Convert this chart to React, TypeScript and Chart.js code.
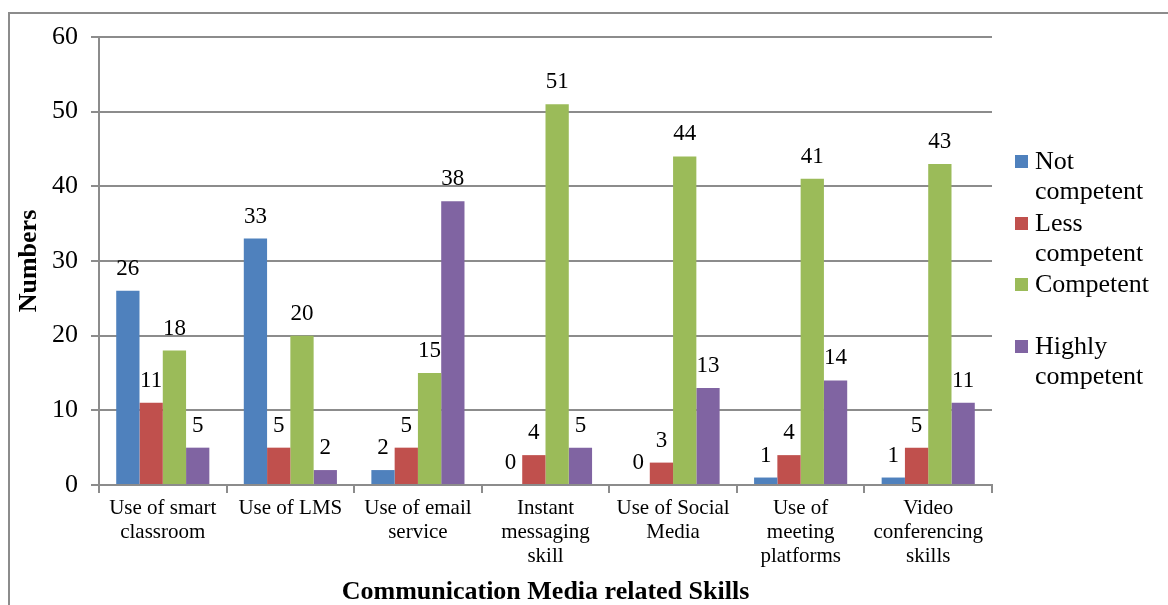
import React, { useEffect, useRef } from "react";
import { Chart, registerables } from "chart.js";

Chart.register(...registerables);

const categories: string[][] = [
  ["Use of smart", "classroom"],
  ["Use of LMS"],
  ["Use of email", "service"],
  ["Instant", "messaging", "skill"],
  ["Use of Social", "Media"],
  ["Use of", "meeting", "platforms"],
  ["Video", "conferencing", "skills"],
];

const notCompetent = [26, 33, 2, 0, 0, 1, 1];
const lessCompetent = [11, 5, 5, 4, 3, 4, 5];
const competent = [18, 20, 15, 51, 44, 41, 43];
const highlyCompetent = [5, 2, 38, 5, 13, 14, 11];

const seriesNames = ["Not competent", "Less competent", "Competent", "Highly competent"];
const legendLines: string[][] = [
  ["Not", "competent"],
  ["Less", "competent"],
  ["Competent"],
  ["Highly", "competent"],
];
const colors = ["#4F81BD", "#C0504D", "#9BBB59", "#8064A2"];
const yTicks = [0, 10, 20, 30, 40, 50, 60];

const FONT = "'Liberation Serif', 'Times New Roman', serif";
const GRID = "#8c8c8c";

const borderPlugin = {
  id: "outerBorder",
  beforeDraw(chart: any) {
    const ctx = chart.ctx;
    ctx.save();
    ctx.strokeStyle = "#8c8c8c";
    ctx.lineWidth = 2;
    ctx.strokeRect(9, 13, 3000, 3000);
    ctx.restore();
  },
};

const valueLabelPlugin = {
  id: "valueLabels",
  afterDatasetsDraw(chart: any) {
    const ctx = chart.ctx;
    ctx.save();
    ctx.font = `23px ${FONT}`;
    ctx.fillStyle = "#000";
    ctx.textAlign = "center";
    ctx.textBaseline = "alphabetic";
    chart.data.datasets.forEach((ds: any, i: number) => {
      const meta = chart.getDatasetMeta(i);
      meta.data.forEach((bar: any, j: number) => {
        ctx.fillText(String(ds.data[j]), bar.x, bar.y - 16);
      });
    });
    ctx.restore();
  },
};

const legendPlugin = {
  id: "customLegend",
  afterDraw(chart: any) {
    const ctx = chart.ctx;
    ctx.save();
    ctx.font = `26px ${FONT}`;
    ctx.textBaseline = "middle";
    ctx.textAlign = "left";
    const starts = [162, 224, 285, 347];
    legendLines.forEach((lines, i) => {
      const y0 = starts[i];
      ctx.fillStyle = colors[i];
      ctx.fillRect(1015, y0 - 7, 13, 13);
      ctx.fillStyle = "#000";
      lines.forEach((ln, k) => {
        ctx.fillText(ln, 1035, y0 + k * 30);
      });
    });
    ctx.restore();
  },
};

export default function App() {
  const ref = useRef<HTMLCanvasElement | null>(null);

  useEffect(() => {
    if (!ref.current) return;
    const datasetsValues = [notCompetent, lessCompetent, competent, highlyCompetent];
    const chart = new Chart(ref.current, {
      type: "bar",
      data: {
        labels: categories as any,
        datasets: datasetsValues.map((d, i) => ({
          label: seriesNames[i],
          data: d,
          backgroundColor: colors[i],
          borderWidth: 0,
          categoryPercentage: 0.73,
          barPercentage: 1.0,
        })),
      },
      options: {
        animation: false,
        responsive: false,
        maintainAspectRatio: false,
        layout: { padding: { left: 10, top: 37, right: 176, bottom: 0 } },
        plugins: {
          legend: { display: false },
          tooltip: { enabled: false },
        },
        scales: {
          x: {
            grid: {
              drawOnChartArea: false,
              drawTicks: true,
              tickLength: 8,
              color: GRID,
              lineWidth: 2,
            },
            border: { color: GRID, width: 2 },
            ticks: {
              color: "#000",
              font: { family: FONT, size: 21, lineHeight: 1.15 },
              padding: 3,
              maxRotation: 0,
              autoSkip: false,
            },
            title: {
              display: true,
              text: "Communication Media related Skills",
              color: "#000",
              font: { family: FONT, size: 26, weight: "bold" },
              padding: { top: 0, bottom: -3 },
            },
            afterFit(scale: any) {
              scale.height = 120;
            },
          },
          y: {
            min: 0,
            max: 60,
            afterBuildTicks(scale: any) {
              scale.ticks = yTicks.map((v) => ({ value: v }));
            },
            grid: {
              color: GRID,
              lineWidth: 2,
              tickLength: 8,
            },
            border: { color: GRID, width: 2 },
            ticks: {
              color: "#000",
              font: { family: FONT, size: 26 },
              padding: 13,
            },
            title: {
              display: true,
              text: "Numbers",
              color: "#000",
              font: { family: FONT, size: 26, weight: "bold" },
              padding: { top: 4, bottom: 0 },
            },
            afterFit(scale: any) {
              scale.width = 89;
            },
          },
        },
      },
      plugins: [borderPlugin, valueLabelPlugin, legendPlugin],
    });
    return () => chart.destroy();
  }, []);

  return (
    <div style={{ position: "fixed", left: 0, top: 0, width: 1168, height: 605, background: "#fff" }}>
      <canvas ref={ref} width={1168} height={605} style={{ display: "block", width: 1168, height: 605 }} />
    </div>
  );
}
